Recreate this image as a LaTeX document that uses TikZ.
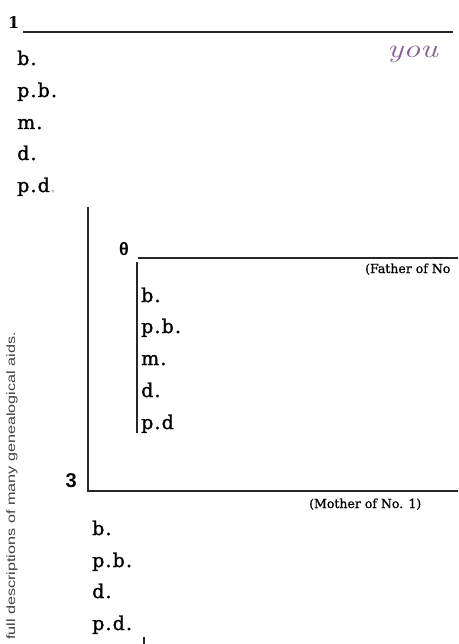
\documentclass[tikz,border=0pt]{standalone}
\usepackage{fontspec}
\usepackage{graphicx}
\newfontfamily\labfont[LetterSpace=6,FakeBold=1.2]{DejaVu Serif}
\newfontfamily\numfont{DejaVu Serif}
\newfontfamily\sansnum{Liberation Sans}
\newfontfamily\sidefont{Liberation Sans}
\newfontfamily\notefont[FakeBold=0.8]{DejaVu Serif}
\definecolor{inkpurple}{RGB}{135,95,150}
\tikzset{
  lab/.style={anchor=base west, inner sep=0pt, font=\labfont\fontsize{19}{20}\selectfont},
  formline/.style={line width=1.1pt, black!85},
  note/.style={anchor=base west, inner sep=0pt, font=\notefont\fontsize{12.5}{13}\selectfont},
}
\begin{document}
\begin{tikzpicture}[x=1pt,y=-1pt]
\useasboundingbox (0,0) rectangle (458,644);
\clip (0,0) rectangle (458,644);
% person 1
\node[anchor=base west, inner sep=0pt, font=\numfont\bfseries\fontsize{16}{17}\selectfont] (n1) at (8,29) {1};
\coordinate (l1a) at (23,32);
\coordinate (l1b) at (453,32);
\draw[formline] (l1a) -- (l1b);
\node[anchor=base west, inner sep=0pt, text=inkpurple, font=\itshape\fontsize{26}{27}\selectfont] (you) at (387,58) {\scalebox{1.3}[1]{you}};
\node[lab] (t1) at (17,65) {b.};
\node[lab] (t2) at (17,97) {p.b.};
\node[lab] (t3) at (17,129) {m.};
\node[lab] (t4) at (17,160) {d.};
\node[lab] (t5) at (17,192) {p.d\textcolor{black!25}{.}};
% person 3 bracket
\coordinate (o1) at (88,207);
\coordinate (o2) at (88,491);
\coordinate (o3) at (460,491);
\draw[formline, line width=1.4pt] (o1) -- (o2) -- (o3);
\node[anchor=base east, inner sep=0pt, font=\sansnum\bfseries\fontsize{20}{21}\selectfont] (n3) at (77,487) {3};
\node[note] (mother) at (309,508) {(Mother of No. 1)};
% person 2 bracket
\node[anchor=base west, inner sep=0pt, font=\sansnum\bfseries\fontsize{18}{19}\selectfont] (n2) at (119,255) {θ};
\coordinate (i1) at (138,258);
\coordinate (i2) at (460,258);
\draw[formline] (i1) -- (i2);
\coordinate (v1) at (137,262);
\coordinate (v2) at (137,433);
\draw[formline] (v1) -- (v2);
\node[note] (father) at (365,273) {(Father of No};
\node[lab] (f1) at (141,302) {b.};
\node[lab] (f2) at (141,333) {p.b.};
\node[lab] (f3) at (141,365) {m.};
\node[lab] (f4) at (141,397) {d.};
\node[lab] (f5) at (141,429) {p.d};
% mother details
\node[lab] (m1) at (92,535) {b.};
\node[lab] (m2) at (92,567) {p.b.};
\node[lab] (m3) at (92,598) {d.};
\node[lab] (m4) at (92,630) {p.d.};
\coordinate (k1) at (144,637);
\coordinate (k2) at (144,646);
\draw[formline] (k1) -- (k2);
% side text
\node[rotate=90, inner sep=0pt, text=black!75, font=\sidefont\fontsize{12}{13}\selectfont] (side) at (12,486) {\scalebox{1.35}[1]{full descriptions of many genealogical aids.}};
\end{tikzpicture}
\end{document}
